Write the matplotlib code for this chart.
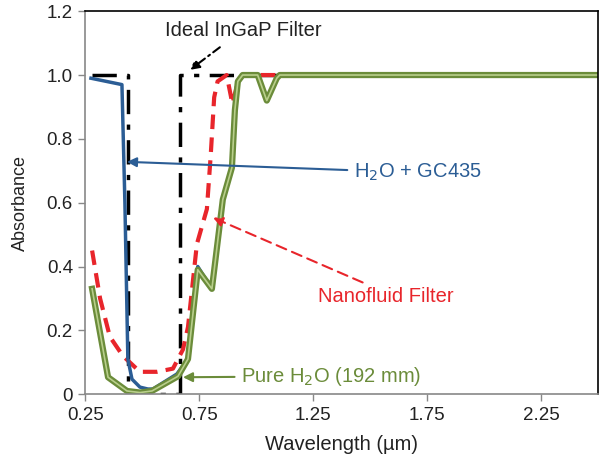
import matplotlib.pyplot as plt

plt.rcParams['font.family'] = ['Liberation Sans', 'DejaVu Sans']

# Ideal InGaP filter (step)
ideal_x = [0.28, 0.435, 0.435, 0.665, 0.665, 2.5]
ideal_y = [1.0, 1.0, 0.0, 0.0, 1.0, 1.0]

# H2O + GC435
gc_x = [0.274, 0.41, 0.423, 0.436, 0.454, 0.489, 0.524, 0.546, 0.651, 0.70,
        0.743, 0.805, 0.853, 0.893, 0.906, 0.919, 0.94, 1.006, 1.046, 1.09, 1.103, 2.5]
gc_y = [0.99, 0.97, 0.60, 0.11, 0.047, 0.022, 0.016, 0.016, 0.063, 0.11,
        0.40, 0.33, 0.61, 0.71, 0.89, 0.98, 1.0, 1.0, 0.92, 0.99, 1.0, 1.0]

# Nanofluid filter
nano_x = [0.279, 0.314, 0.357, 0.414, 0.489, 0.564, 0.634, 0.678, 0.70, 0.739,
          0.783, 0.80, 0.815, 0.83, 0.87, 0.895, 0.92, 0.94, 2.5]
nano_y = [0.45, 0.30, 0.18, 0.12, 0.07, 0.07, 0.08, 0.14, 0.21, 0.47,
          0.58, 0.75, 0.93, 0.98, 1.0, 0.91, 0.98, 1.0, 1.0]

# Pure H2O (192 mm)
pure_x = [0.279, 0.349, 0.432, 0.489, 0.542, 0.656, 0.70, 0.743, 0.805, 0.853,
          0.893, 0.906, 0.919, 0.94, 1.006, 1.046, 1.09, 1.103, 2.5]
pure_y = [0.33, 0.053, 0.01, 0.005, 0.01, 0.056, 0.11, 0.39, 0.33, 0.61,
          0.71, 0.89, 0.98, 1.0, 1.0, 0.92, 0.99, 1.0, 1.0]

blue = '#2b5d95'
red = '#e8252b'
green = '#6b8c3a'
gray = '#888888'

fig = plt.figure(figsize=(6, 4.67), dpi=100)
ax = fig.add_axes([0.1425, 0.156, 0.854, 0.82])

ax.plot(ideal_x, ideal_y, color='black', lw=2.5, ls=(0, (7, 3, 1.5, 3)))
ax.plot(nano_x, nano_y, color=red, lw=3, ls=(0, (3.5, 2)))
ax.plot(gc_x, gc_y, color=blue, lw=2.5)
ax.plot(pure_x, pure_y, color=green, lw=4.5)
ax.plot(pure_x, pure_y, color='#b9cf8c', lw=1.2)

ax.set_xlim(0.25, 2.5)
ax.set_ylim(0, 1.2)
ax.set_xticks([0.25, 0.75, 1.25, 1.75, 2.25])
ax.set_xticklabels(['0.25', '0.75', '1.25', '1.75', '2.25'])
ax.set_yticks([0, 0.2, 0.4, 0.6, 0.8, 1.0, 1.2])
ax.set_yticklabels(['0', '0.2', '0.4', '0.6', '0.8', '1.0', '1.2'])
ax.tick_params(axis='both', direction='out', length=5, width=1, color=gray,
               labelsize=13.5, labelcolor='#222222', pad=4)
ax.spines['left'].set_color(gray)
ax.spines['bottom'].set_color(gray)
ax.spines['top'].set_color('black')
ax.spines['right'].set_color('black')
for s in ax.spines.values():
    s.set_linewidth(1.2)

ax.set_xlabel('Wavelength (µm)', fontsize=14.5, color='#222222', labelpad=8)
ax.set_ylabel('Absorbance', fontsize=13, color='#222222', labelpad=13)

ax.text(0.945, 1.14, 'Ideal InGaP Filter', fontsize=14.5, color='#222222',
        ha='center', va='center')
ax.annotate('', xy=(0.708, 1.016), xytext=(0.84, 1.087),
            arrowprops=dict(arrowstyle='-|>', color='black', lw=1.5,
                            ls=(0, (4, 2, 1, 2)), shrinkA=0, shrinkB=0,
                            mutation_scale=14))
ax.annotate('H$_2$O + GC435', xy=(0.432, 0.728), xytext=(1.43, 0.694),
            fontsize=14.5, color=blue, ha='left', va='center',
            arrowprops=dict(arrowstyle='-|>', color=blue, lw=1.5,
                            shrinkA=3, shrinkB=0, mutation_scale=14))
ax.text(1.567, 0.306, 'Nanofluid Filter', fontsize=14.5, color=red,
        ha='center', va='center')
ax.annotate('', xy=(0.81, 0.553), xytext=(1.467, 0.35),
            arrowprops=dict(arrowstyle='-|>', color=red, lw=1.5,
                            ls=(0, (5, 3)), shrinkA=0, shrinkB=0,
                            mutation_scale=14))
ax.annotate('Pure H$_2$O (192 mm)', xy=(0.678, 0.053), xytext=(0.935, 0.056),
            fontsize=14.5, color=green, ha='left', va='center',
            arrowprops=dict(arrowstyle='-|>', color=green, lw=1.5,
                            shrinkA=3, shrinkB=0, mutation_scale=14))

fig.savefig('out.png', dpi=100)
